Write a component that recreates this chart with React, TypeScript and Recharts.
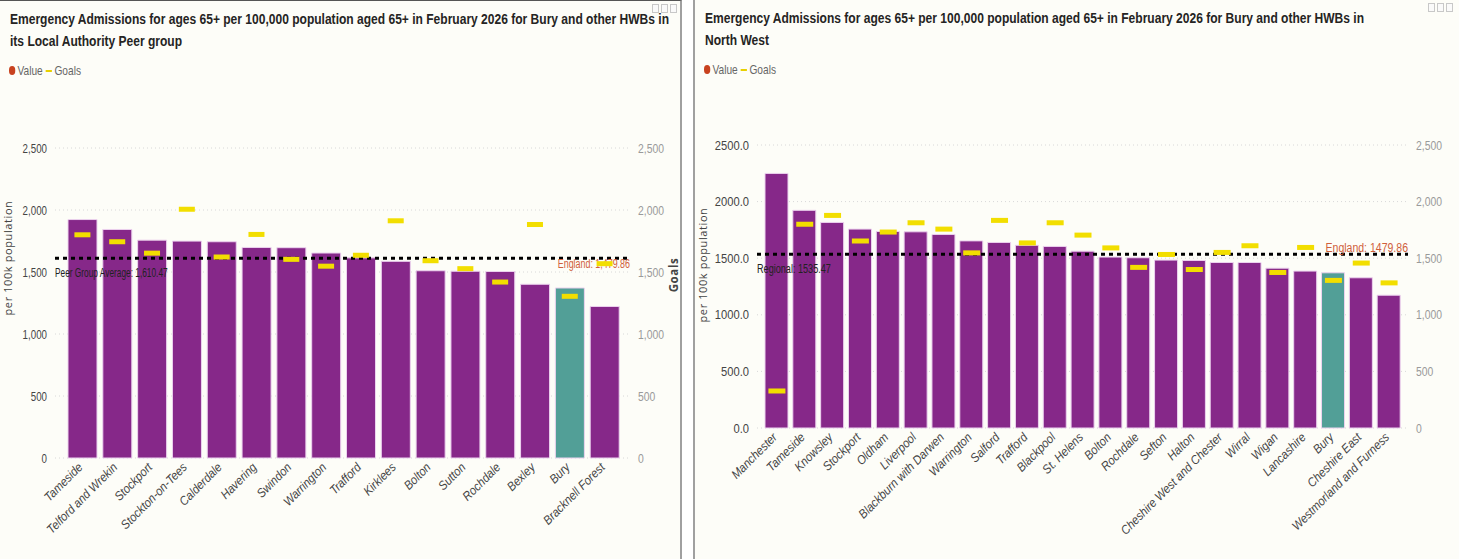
import React from 'react';
import { ComposedChart, Bar, Line, XAxis, YAxis, CartesianGrid, ReferenceLine, Cell } from 'recharts';

// Peer group panel
const peerAreas = [
  'Tameside', 'Telford and Wrekin', 'Stockport', 'Stockton-on-Tees', 'Calderdale', 'Havering', 'Swindon',
  'Warrington', 'Trafford', 'Kirklees', 'Bolton', 'Sutton', 'Rochdale', 'Bexley', 'Bury', 'Bracknell Forest',
];
const peerValues = [1923, 1843, 1757, 1749, 1744, 1698, 1696, 1653, 1614, 1586, 1510, 1506, 1504, 1401, 1371, 1222];
const peerGoals = [1800, 1744, 1652, 2006, 1621, 1803, 1602, 1547, 1635, 1913, 1591, 1527, 1419, 1883, 1304, 1567];
const peerAverage = 1610.47;

// North West panel
const nwAreas = [
  'Manchester', 'Tameside', 'Knowsley', 'Stockport', 'Oldham', 'Liverpool', 'Blackburn with Darwen', 'Warrington',
  'Salford', 'Trafford', 'Blackpool', 'St. Helens', 'Bolton', 'Rochdale', 'Sefton', 'Halton',
  'Cheshire West and Chester', 'Wirral', 'Wigan', 'Lancashire', 'Bury', 'Cheshire East', 'Westmorland and Furness',
];
const nwValues = [2249, 1923, 1816, 1757, 1736, 1733, 1710, 1653, 1639, 1614, 1604, 1562, 1510, 1504, 1483, 1480, 1462, 1462, 1412, 1386, 1371, 1327, 1173];
const nwGoals = [327, 1800, 1878, 1652, 1731, 1813, 1757, 1547, 1834, 1635, 1813, 1704, 1591, 1419, 1533, 1400, 1551, 1610, 1374, 1595, 1304, 1457, 1282];
const regionalAverage = 1535.47;

const englandValue = 1479.86;
const yTicks = [0, 500, 1000, 1500, 2000, 2500];
const highlightArea = 'Bury';

const FONT = "'Liberation Sans', Arial, sans-serif";
const PURPLE = '#862889';
const TEAL = '#529F97';
const GOAL = '#F2DE00';

const peerData = peerAreas.map((area, i) => ({ area, value: peerValues[i], goal: peerGoals[i] }));
const nwData = nwAreas.map((area, i) => ({ area, value: nwValues[i], goal: nwGoals[i] }));

// the screenshot is squeezed sideways, so horizontal text gets a scaleX
const SqueezedText = ({ x, y, sx, anchor = 'start', size, fill, weight, children }: any) => (
  <text
    transform={`translate(${x},${y}) scale(${sx},1)`}
    textAnchor={anchor}
    dy="0.355em"
    fontSize={size}
    fontFamily={FONT}
    fontWeight={weight}
    fill={fill}
  >
    {children}
  </text>
);

const AngledTick = ({ x, y, payload }: any) => (
  <g transform={`translate(${x + 1},${y + 6}) rotate(-45)`}>
    <text textAnchor="end" transform="scale(0.9,1)" fontSize={12.5} fontStyle="italic" fontFamily={FONT} fill="#444">
      {payload.value}
    </text>
  </g>
);

const ValueTick = ({ x, y, payload, anchor, fill, format, sx }: any) => (
  <SqueezedText x={x} y={y} sx={sx} anchor={anchor} size={13} fill={fill}>
    {format(payload.value)}
  </SqueezedText>
);

const goalDot = (w: number) => (props: any) => {
  const { cx, cy, index } = props;
  if (cx == null || cy == null) return <g key={index} />;
  return <rect key={index} x={cx - w / 2} y={cy - 2.5} width={w} height={5} fill={GOAL} />;
};

const Legend = () => (
  <div style={{ position: 'absolute', left: 9, top: 62, fontFamily: FONT, fontSize: 13, color: '#666', display: 'flex', alignItems: 'center', transform: 'scaleX(0.78)', transformOrigin: 'left center' }}>
    <span style={{ width: 8, height: 9, borderRadius: 5, background: '#C8421F', display: 'inline-block', marginRight: 3 }} />
    <span>Value</span>
    <span style={{ width: 8, height: 2, background: '#E8D000', display: 'inline-block', margin: '0 3px 0 4px' }} />
    <span>Goals</span>
  </div>
);

const Title = ({ lines }: { lines: string[] }) => (
  <div style={{ position: 'absolute', left: 10, top: 7, fontFamily: FONT, fontWeight: 'bold', fontSize: 14.5, color: '#252423', lineHeight: '22px', whiteSpace: 'nowrap', transform: 'scaleX(0.83)', transformOrigin: 'left top' }}>
    {lines.map((l) => <div key={l}>{l}</div>)}
  </div>
);

const HeaderIcons = ({ right }: { right: number }) => (
  <div style={{ position: 'absolute', right, top: 3, display: 'flex', gap: 2 }}>
    {[0, 1, 2].map((i) => (
      <span key={i} style={{ width: 5, height: 7, border: '1px solid #c8c8c8', display: 'inline-block', background: '#fafafa' }} />
    ))}
  </div>
);

interface PanelChartProps {
  data: { area: string; value: number; goal: number }[];
  width: number;
  height: number;
  top: number;
  leftWidth: number;
  rightWidth: number;
  xHeight: number;
  padding: { left: number; right: number };
  barSize: number;
  goalWidth: number;
  leftFormat: (v: number) => string;
  tickScale: number;
  average: number;
  averageLabel: string;
  averageScale: number;
  averageDy: number;
  englandLabel: string;
  englandScale: number;
  englandDy: number;
  yLabelPos: [number, number];
  goalsLabel?: [number, number];
}

const PanelChart = (p: PanelChartProps) => (
  <ComposedChart width={p.width} height={p.height} data={p.data} margin={{ top: p.top, right: 0, bottom: 0, left: 0 }}>
    <CartesianGrid vertical={false} stroke="#d8d8d8" strokeDasharray="1 3" yAxisId="left" />
    <XAxis
      dataKey="area"
      interval={0}
      height={p.xHeight}
      axisLine={false}
      tickLine={false}
      tickSize={0}
      tickMargin={4}
      padding={p.padding}
      tick={<AngledTick />}
    />
    <YAxis
      yAxisId="left"
      domain={[0, 2500]}
      ticks={yTicks}
      width={p.leftWidth}
      axisLine={false}
      tickLine={false}
      tickSize={0}
      tickMargin={8}
      tick={<ValueTick anchor="end" fill="#444" format={p.leftFormat} sx={p.tickScale} />}
      label={{
        content: () => (
          <text
            transform={`translate(${p.yLabelPos[0]},${p.yLabelPos[1]}) rotate(-90)`}
            textAnchor="middle"
            fontSize={11}
            letterSpacing={0.6}
            fontFamily="'Open Sans', 'DejaVu Sans', sans-serif"
            fill="#444"
          >
            per 100k population
          </text>
        ),
      }}
    />
    <YAxis
      yAxisId="right"
      orientation="right"
      domain={[0, 2500]}
      ticks={yTicks}
      width={p.rightWidth}
      axisLine={false}
      tickLine={false}
      tickSize={0}
      tickMargin={8}
      tick={<ValueTick anchor="start" fill="#9a9a9a" format={(v: number) => v.toLocaleString('en-GB')} sx={0.8} />}
      label={
        p.goalsLabel
          ? {
              content: () => (
                <text
                  transform={`translate(${p.goalsLabel![0]},${p.goalsLabel![1]}) rotate(-90)`}
                  textAnchor="middle"
                  fontSize={11.5}
                  fontWeight="bold"
                  letterSpacing={0.6}
                  fontFamily="'Open Sans', 'DejaVu Sans', sans-serif"
                  fill="#444"
                >
                  Goals
                </text>
              ),
            }
          : undefined
      }
    />
    <Bar yAxisId="left" dataKey="value" barSize={p.barSize} stroke="#ecd2ee" strokeWidth={1} isAnimationActive={false}>
      {p.data.map((d) => (
        <Cell key={d.area} fill={d.area === highlightArea ? TEAL : PURPLE} />
      ))}
    </Bar>
    <ReferenceLine
      yAxisId="left"
      y={p.average}
      stroke="#000"
      strokeWidth={3}
      strokeDasharray="4 4"
      label={{
        content: ({ viewBox }: any) => (
          <SqueezedText x={viewBox.x} y={viewBox.y + p.averageDy} sx={p.averageScale} size={13} fill="#222">
            {p.averageLabel}
          </SqueezedText>
        ),
      }}
    />
    <ReferenceLine
      yAxisId="left"
      y={p.average}
      stroke="none"
      label={{
        content: ({ viewBox }: any) => (
          <SqueezedText x={viewBox.x + viewBox.width} y={viewBox.y + p.englandDy} sx={p.englandScale} anchor="end" size={13.5} fill="#D0603C">
            {p.englandLabel}
          </SqueezedText>
        ),
      }}
    />
    <Line
      yAxisId="right"
      dataKey="goal"
      stroke="none"
      dot={goalDot(p.goalWidth)}
      activeDot={false}
      isAnimationActive={false}
    />
  </ComposedChart>
);

export default function App() {
  return (
    <div style={{ position: 'absolute', left: 0, top: 0, width: 1459, height: 559, background: '#fff', overflow: 'hidden' }}>
      <div style={{ position: 'absolute', left: 0, top: 0, width: 680, height: 558, background: '#fdfdf8', borderTop: '1px solid #555', borderRight: '2px solid #a0a0a0', overflow: 'hidden' }}>
        <Title lines={['Emergency Admissions for ages 65+ per 100,000 population aged 65+ in February 2026 for Bury and other HWBs in', 'its Local Authority Peer group']} />
        <HeaderIcons right={3} />
        <Legend />
        <div style={{ position: 'absolute', left: 0, top: 0 }}>
          <PanelChart
            data={peerData}
            width={680}
            height={558}
            top={147}
            leftWidth={55}
            rightWidth={50}
            xHeight={101}
            padding={{ left: 10, right: 8 }}
            barSize={29}
            goalWidth={16}
            leftFormat={(v) => v.toLocaleString('en-GB')}
            tickScale={0.75}
            average={peerAverage}
            averageLabel={`Peer Group Average: ${peerAverage.toLocaleString('en-GB', { minimumFractionDigits: 2 })}`}
            averageScale={0.64}
            averageDy={14}
            englandLabel={`England: ${englandValue.toLocaleString('en-GB', { minimumFractionDigits: 2 })}`}
            englandScale={0.66}
            englandDy={5}
            yLabelPos={[12, 257]}
            goalsLabel={[678, 274]}
          />
        </div>
      </div>
      <div style={{ position: 'absolute', left: 693, top: 0, width: 764, height: 559, background: '#fdfdf8', borderLeft: '2px solid #a0a0a0', overflow: 'hidden' }}>
        <Title lines={['Emergency Admissions for ages 65+ per 100,000 population aged 65+ in February 2026 for Bury and other HWBs in', 'North West']} />
        <HeaderIcons right={6} />
        <Legend />
        <div style={{ position: 'absolute', left: 0, top: 0 }}>
          <PanelChart
            data={nwData}
            width={764}
            height={559}
            top={145}
            leftWidth={62}
            rightWidth={51}
            xHeight={131}
            padding={{ left: 6, right: 5 }}
            barSize={23}
            goalWidth={17}
            leftFormat={(v) => v.toFixed(1)}
            tickScale={0.86}
            average={regionalAverage}
            averageLabel={`Regional: ${regionalAverage}`}
            averageScale={0.7}
            averageDy={14}
            englandLabel={`England: ${englandValue}`}
            englandScale={0.78}
            englandDy={-7}
            yLabelPos={[12, 265]}
          />
        </div>
      </div>
    </div>
  );
}
